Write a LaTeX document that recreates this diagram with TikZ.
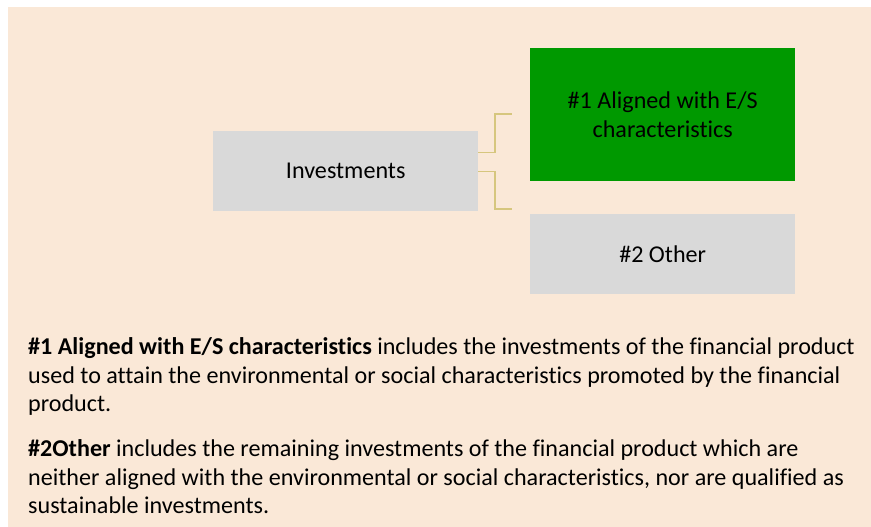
\documentclass[tikz,border=0pt]{standalone}
\usepackage{fontspec}
\setmainfont[Ligatures=NoCommon]{Carlito}
\usetikzlibrary{positioning}

\definecolor{bgbeige}{RGB}{250,232,215}
\definecolor{boxgrey}{RGB}{217,217,217}
\definecolor{boxgreen}{RGB}{0,153,0}
\definecolor{bracketgold}{RGB}{214,198,126}

\begin{document}
\begin{tikzpicture} [
    x=1bp, y=-1bp,
    catbox/.style={minimum width=265bp, minimum height=#1, inner sep=0pt, align=center,
      font=\fontsize{24.2}{29}\selectfont, anchor=north west},
    greybox/.style={catbox=80bp, fill=boxgrey},
    greenbox/.style={catbox=133bp, fill=boxgreen},
    bracket/.style={draw=bracketgold, line width=1.2bp},
    explain/.style={anchor=north west, inner sep=0pt, align=left,
      font=\fontsize{24.2}{29}\selectfont}
  ]

% background and frame
\useasboundingbox (0,0) rectangle (871,527);
\fill[bgbeige] (8,7) rectangle (871,527);

% boxes
\node[greybox] (inv) at (213,131) {Investments};
\node[greenbox] (aligned) at (530,48) {\#1 Aligned with E/S\\characteristics};
\node[greybox] (other) at (530,214) {\#2 Other};

% brackets
\coordinate (topend) at (512,114);
\coordinate (botend) at (512,209);
\draw[bracket] ([yshift=19bp]inv.east) -| ([xshift=-17bp]topend) -- (topend);
\draw[bracket] (inv.east) -| ([xshift=-17bp]botend) -- (botend);

% descriptions
\node[explain] (desc1) at (28,337) {\textbf{\#1 Aligned with E/S characteristics} includes the investments of the financial product\\
  used to attain the environmental or social characteristics promoted by the financial\\
  product.};
\node[explain] (desc2) at (28,439) {\textbf{\#2Other} includes the remaining investments of the financial product which are\\
  neither aligned with the environmental or social characteristics, nor are qualified as\\
  sustainable investments.};

\end{tikzpicture}
\end{document}
